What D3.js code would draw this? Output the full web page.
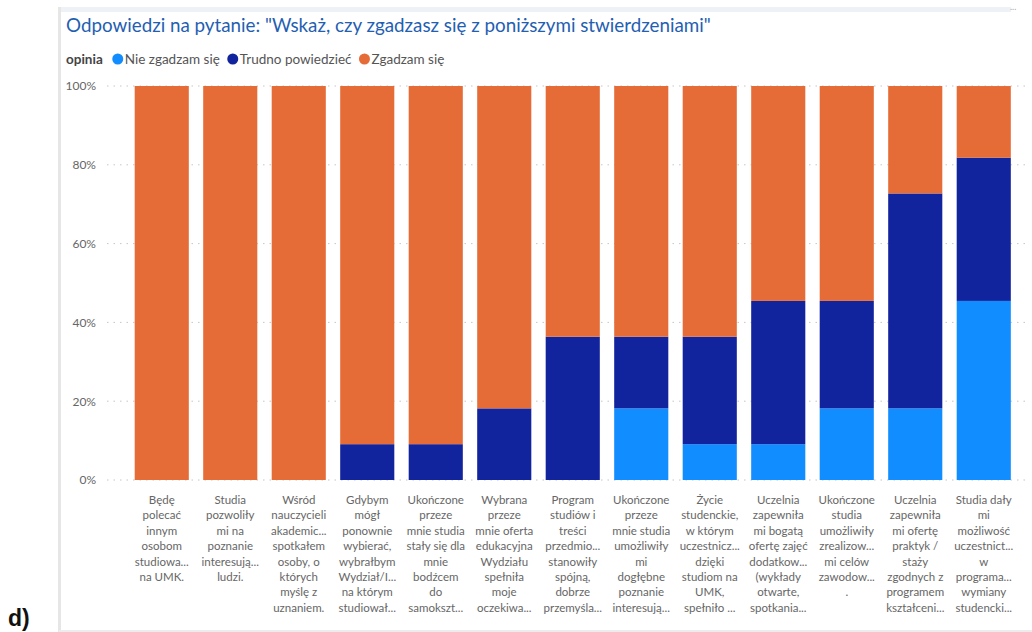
<!DOCTYPE html>
<html><head><meta charset="utf-8">
<script src="https://cdn.jsdelivr.net/npm/d3@7"></script>
<style>
body{margin:0;background:#fff;}
svg{display:block;font-family:"Lato","Segoe UI",sans-serif;}
</style></head>
<body><svg id="c" width="1032" height="632"></svg>
<script>
const title = 'Odpowiedzi na pytanie: "Wskaż, czy zgadzasz się z poniższymi stwierdzeniami"';
const legendTitle = "opinia";
const seriesNames = ["Nie zgadzam się", "Trudno powiedzieć", "Zgadzam się"];
const seriesColors = ["#118DFF", "#12239E", "#E66C37"];
const categories = [
  ["Będę","polecać","innym","osobom","studiowa...","na UMK."],
  ["Studia","pozwoliły","mi na","poznanie","interesują...","ludzi."],
  ["Wśród","nauczycieli","akademic...","spotkałem","osoby, o","których","myślę z","uznaniem."],
  ["Gdybym","mógł","ponownie","wybierać,","wybrałbym","Wydział/I...","na którym","studiował..."],
  ["Ukończone","przeze","mnie studia","stały się dla","mnie","bodźcem","do","samokszt..."],
  ["Wybrana","przeze","mnie oferta","edukacyjna","Wydziału","spełniła","moje","oczekiwa..."],
  ["Program","studiów i","treści","przedmio...","stanowiły","spójną,","dobrze","przemyśla..."],
  ["Ukończone","przeze","mnie studia","umożliwiły","mi","dogłębne","poznanie","interesują..."],
  ["Życie","studenckie,","w którym","uczestnicz...","dzięki","studiom na","UMK,","spełniło ..."],
  ["Uczelnia","zapewniła","mi bogatą","ofertę zajęć","dodatkow...","(wykłady","otwarte,","spotkania..."],
  ["Ukończone","studia","umożliwiły","zrealizow...","mi celów","zawodow...","."],
  ["Uczelnia","zapewniła","mi ofertę","praktyk /","staży","zgodnych z","programem","kształceni..."],
  ["Studia dały","mi","możliwość","uczestnict...","w","programa...","wymiany","studencki..."]
];
const nieZgadzam = [0,0,0,0,0,0,0,18.18,9.09,9.09,18.18,18.18,45.45];
const trudno     = [0,0,0,9.09,9.09,18.18,36.36,18.18,27.27,36.36,27.27,54.55,36.36];
const zgadzam    = [100,100,100,90.91,90.91,81.82,63.64,63.64,63.64,54.55,54.55,27.27,18.18];
const yTicks = [0,20,40,60,80,100];

const svg = d3.select("#c");
// frame
svg.append("rect").attr("x",59).attr("y",7).attr("width",952).attr("height",5).attr("fill","#eef2f7");
svg.append("rect").attr("x",58).attr("y",7).attr("width",3).attr("height",625).attr("fill","#e6e6e6");
svg.append("rect").attr("x",59).attr("y",630).attr("width",973).attr("height",2).attr("fill","#ececec");
svg.append("text").attr("x",1010).attr("y",10).attr("font-size",9).attr("fill","#aaa").text("...");
svg.append("text").attr("x",8).attr("y",626).attr("font-size",23).attr("font-weight","bold")
  .attr("font-family","'Liberation Sans',Arial,sans-serif").attr("fill","#111").text("d)");

// title
svg.append("text").attr("x",66).attr("y",32).attr("font-size",18.8).attr("fill","#1f60b2").text(title);

// legend
const lg = svg.append("g").attr("transform","translate(66,59)");
const lt = lg.append("text").attr("y",4.8).attr("font-size",13.5).attr("font-weight","bold").attr("fill","#444").text(legendTitle);
let lx = lt.node().getComputedTextLength() + 15;
seriesNames.forEach((n,i)=>{
  lg.append("circle").attr("cx",lx).attr("cy",0).attr("r",5.5).attr("fill",seriesColors[i]);
  const t = lg.append("text").attr("x",lx+7).attr("y",4.8).attr("font-size",13.5).attr("fill","#555").text(n);
  lx += 7 + t.node().getComputedTextLength() + 13;
});

// scales
const x = d3.scaleBand().domain(d3.range(categories.length)).range([127.5,1018]).paddingInner(0.21).paddingOuter(0.105);
const y = d3.scaleLinear().domain([0,100]).range([480,86]);

// grid
svg.append("g").selectAll("line").data(yTicks).join("line")
  .attr("x1",107).attr("x2",1030).attr("y1",d=>y(d)).attr("y2",d=>y(d))
  .attr("stroke","#c6c6c6").attr("stroke-width",1).attr("stroke-dasharray","1.5,5");

// y axis
const ya = svg.append("g").attr("transform","translate(96,0)")
  .call(d3.axisLeft(y).tickValues(yTicks).tickFormat(d=>d+"%").tickSize(0).tickPadding(0));
ya.select(".domain").remove();
ya.selectAll("text").attr("font-size",12).attr("fill","#666").attr("font-family","Lato,sans-serif");

// bars
const rows = categories.map((c,i)=>({i, nie:nieZgadzam[i], tr:trudno[i], zg:zgadzam[i]}));
const stack = d3.stack().keys(["nie","tr","zg"])(rows);
svg.append("g").selectAll("g").data(stack).join("g").attr("fill",(d,i)=>seriesColors[i])
  .selectAll("rect").data(d=>d).join("rect")
  .attr("x",d=>x(d.data.i)).attr("width",x.bandwidth())
  .attr("y",d=>y(d[1])).attr("height",d=>y(d[0])-y(d[1]));

// x axis
const xa = svg.append("g").attr("transform","translate(0,480)")
  .call(d3.axisBottom(x).tickSize(0).tickFormat(""));
xa.select(".domain").remove();
xa.selectAll(".tick text").each(function(d){
  const t = d3.select(this).attr("y",0).attr("dy",null).attr("font-size",11.5).attr("fill","#666").attr("font-family","Lato,sans-serif");
  categories[d].forEach((ln,k)=>{
    t.append("tspan").attr("x",0).attr("y",24+k*15.4).text(ln);
  });
});
</script></body></html>
